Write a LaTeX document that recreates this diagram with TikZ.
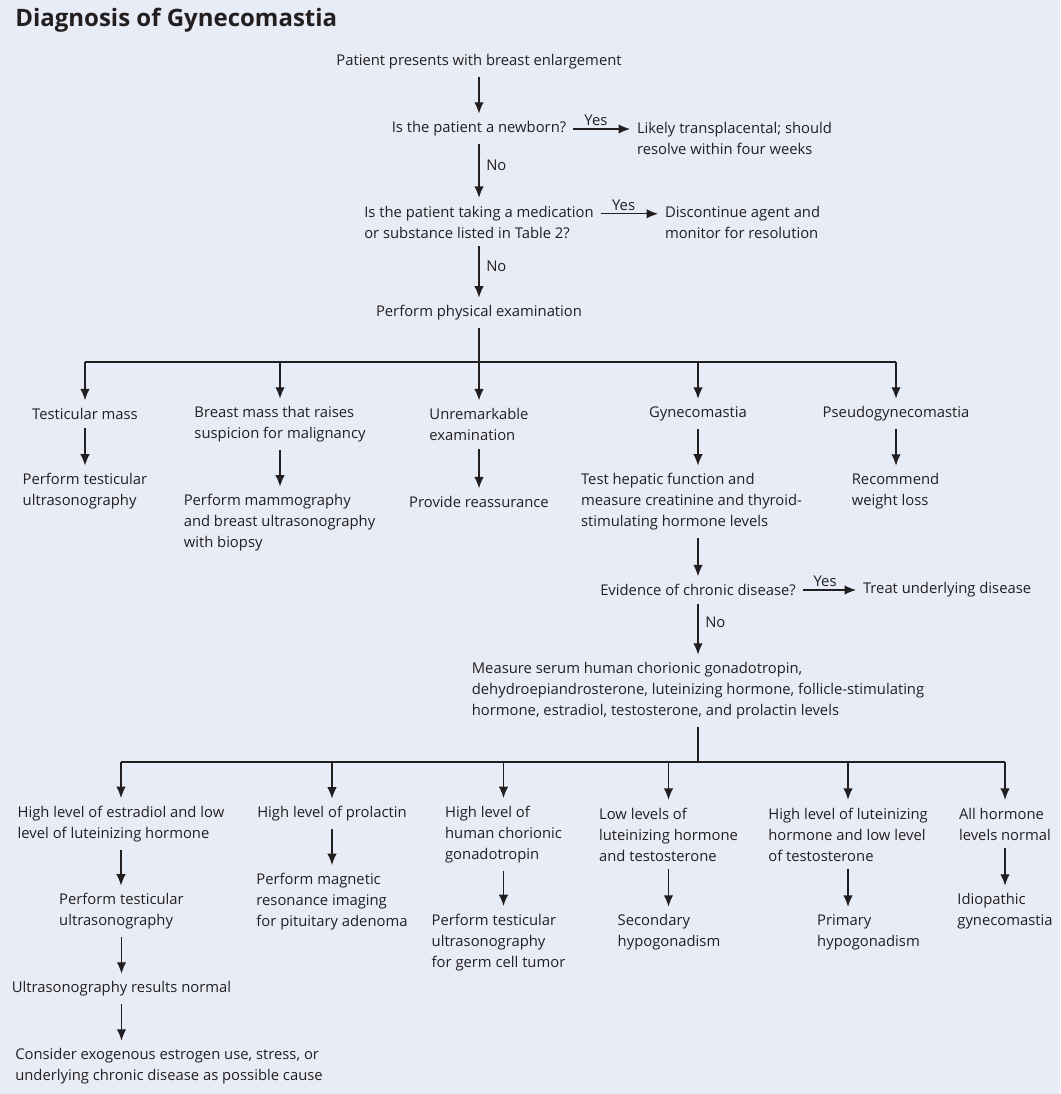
\documentclass[tikz,border=0pt]{standalone}
\usepackage{fontspec}
\setmainfont{Open Sans}
\usetikzlibrary{arrows.meta, calc}
\definecolor{bgblue}{RGB}{232,236,247}
\definecolor{ink}{RGB}{35,31,32}
\tikzset{
txt/.style={
  inner sep=0pt,
  outer xsep=5.25pt,
  outer ysep=6pt,
  align=left,
  text=ink,
  font=\fontsize{11.1}{15.75}\selectfont
},
lbl/.style={inner sep=2pt, text=ink, font=\fontsize{11.1}{15.75}\selectfont},
heading/.style={inner sep=0pt, text=ink, font=\fontsize{18}{21}\selectfont\bfseries},
arr/.style={draw=ink, line width=0.9pt, -{Latex[length=8.5pt,width=7pt]}},
ln/.style={draw=ink, line width=0.9pt},
}

\begin{document}
\begin{tikzpicture}[x=0.75pt, y=-0.75pt]
\fill[bgblue] (0,0) rectangle (1060,1094);
\useasboundingbox (0,0) rectangle (1060,1094);

\node[heading, anchor=west] (title) at (15,20) {Diagnosis of Gynecomastia};

% top column
\node[txt] (n1) at (479,62) {Patient presents with breast enlargement};
\node[txt] (n2) at (479,129) {Is the patient a newborn?};
\node[txt, anchor=west] (n3) at (630,138.5) {Likely transplacental; should\\resolve within four weeks};
\node[txt] (n4) at (479,222) {Is the patient taking a medication\\or substance listed in Table 2?};
\node[txt, anchor=west] (n5) at (658,222) {Discontinue agent and\\monitor for resolution};
\node[txt] (n6) at (479,313) {Perform physical examination};

\draw[arr] (n1) -- (n2);
\draw[arr] (n2.east) -- (n3.west |- n2.east) node[lbl, above, pos=0.4] {Yes};
\draw[arr] (n2) -- (n4) node[lbl, right=3pt, pos=0.39] {No};
\coordinate (y4) at ($(n4.north east)+(0,16)$);
\draw[arr] (y4) -- (n5.west |- y4) node[lbl, above, pos=0.4] {Yes};
\draw[arr] (n4) -- (n6) node[lbl, right=3pt, pos=0.39] {No};

% physical examination findings
\node[txt] (a1) at (85,414) {Testicular mass};
\node[txt] (a2) at (280,424.5) {Breast mass that raises\\suspicion for malignancy};
\node[txt] (a3) at (479,424.5) {Unremarkable\\examination};
\node[txt] (a4) at (698,414) {Gynecomastia};
\node[txt] (a5) at (896,414) {Pseudogynecomastia};

\coordinate (bus1) at (479,362);
\draw[ln] (n6) -- (bus1);
\draw[ln] (a1 |- bus1) -- (a5 |- bus1);
\draw[arr] (a1 |- bus1) -- (a1);
\draw[arr] (a2 |- bus1) -- (a2);
\draw[arr] (a3 |- bus1) -- (a3);
\draw[arr] (a4 |- bus1) -- (a4);
\draw[arr] (a5 |- bus1) -- (a5);

\node[txt] (b1) at (85,491.5) {Perform testicular\\ultrasonography};
\node[txt] (b2) at (279.5,523) {Perform mammography\\and breast ultrasonography\\with biopsy};
\node[txt] (b3) at (479,502) {Provide reassurance};
\node[txt] (b4) at (691.5,502) {Test hepatic function and\\measure creatinine and thyroid-\\stimulating hormone levels};
\node[txt] (b5) at (895.5,491.5) {Recommend\\weight loss};

\draw[arr] (a1.south) -- (a1.south |- b1.north);
\draw[arr] (a2.south) -- (a2.south |- b2.north);
\draw[arr] (a3.south) -- (a3.south |- b3.north);
\draw[arr] (a4.south) -- (a4.south |- b4.north);
\draw[arr] (a5.south) -- (a5.south |- b5.north);

% chronic disease
\node[txt] (c1) at (698,590) {Evidence of chronic disease?};
\node[txt, anchor=west] (c2) at (856,590) {Treat underlying disease};
\node[txt] (d1) at (698,691) {Measure serum human chorionic gonadotropin,\\dehydroepiandrosterone, luteinizing hormone, follicle-stimulating\\hormone, estradiol, testosterone, and prolactin levels};

\draw[arr] (c1.north |- b4.south) -- (c1);
\draw[arr] (c1.east) -- (c2.west |- c1.east) node[lbl, above, pos=0.42] {Yes};
\draw[arr] (c1) -- (d1) node[lbl, right=3pt, pos=0.37] {No};

% hormone results
\node[txt] (e1) at (121,824) {High level of estradiol and low\\level of luteinizing hormone};
\node[txt] (e2) at (332,814) {High level of prolactin};
\node[txt] (e3) at (503.5,834.5) {High level of\\human chorionic\\gonadotropin};
\node[txt] (e4) at (668.5,834.5) {Low levels of\\luteinizing hormone\\and testosterone};
\node[txt] (e5) at (848,834.5) {High level of luteinizing\\hormone and low level\\of testosterone};
\node[txt] (e6) at (1005,824) {All hormone\\levels normal};

\coordinate (bus2) at (698,762);
\draw[ln] (d1) -- (bus2);
\draw[ln] (e1 |- bus2) -- (e6 |- bus2);
\draw[arr] (e1 |- bus2) -- (e1);
\draw[arr] (e2 |- bus2) -- (e2);
\draw[arr] (e3 |- bus2) -- (e3);
\draw[arr] (e4 |- bus2) -- (e4);
\draw[arr] (e5 |- bus2) -- (e5);
\draw[arr] (e6 |- bus2) -- (e6);

\node[txt] (f1) at (121.5,911.5) {Perform testicular\\ultrasonography};
\node[txt] (f2) at (332,901.5) {Perform magnetic\\resonance imaging\\for pituitary adenoma};
\node[txt] (f3) at (498.5,942.5) {Perform testicular\\ultrasonography\\for germ cell tumor};
\node[txt] (f4) at (669,932.5) {Secondary\\hypogonadism};
\node[txt] (f5) at (868.5,932.5) {Primary\\hypogonadism};
\node[txt] (f6) at (1005,911.5) {Idiopathic\\gynecomastia};

\draw[arr] (e1.south) -- (e1.south |- f1.north);
\draw[arr] (e2.south) -- (e2.south |- f2.north);
\draw[arr] (e3.south) -- (e3.south |- f3.north);
\draw[arr] (e4.south) -- (e4.south |- f4.north);
\draw[arr] (e5.south) -- (e5.south |- f5.north);
\draw[arr] (e6.south) -- (e6.south |- f6.north);

\node[txt] (g1) at (121.5,989) {Ultrasonography results normal};
\node[txt] (h1) at (169,1066.5) {Consider exogenous estrogen use, stress, or\\underlying chronic disease as possible cause};

\draw[arr] (f1.south) -- (f1.south |- g1.north);
\draw[arr] (g1.south) -- (g1.south |- h1.north);
\end{tikzpicture}
\end{document}
